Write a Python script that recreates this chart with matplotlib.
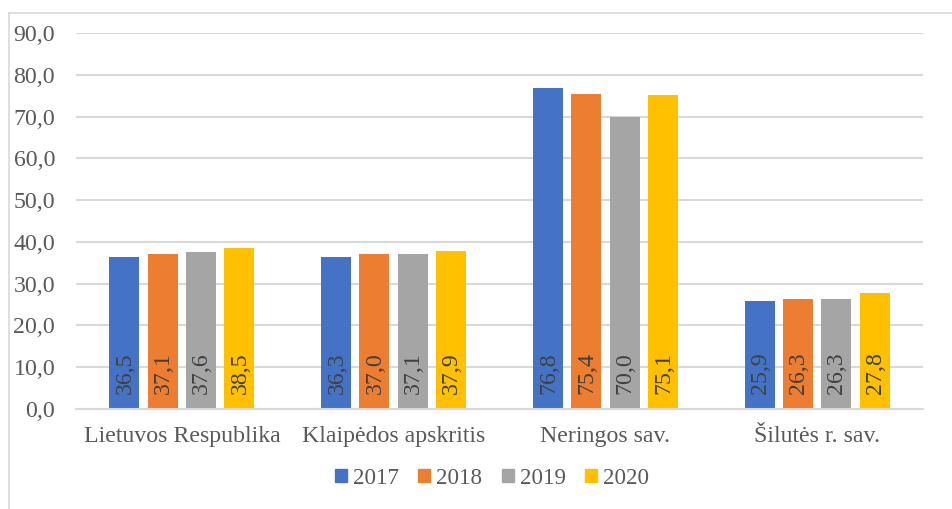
import matplotlib
matplotlib.use("Agg")
import matplotlib.pyplot as plt
from matplotlib.lines import Line2D
import numpy as np

plt.rcParams['font.family'] = ['Liberation Serif', 'DejaVu Serif']

categories = ["Lietuvos Respublika", "Klaipėdos apskritis", "Neringos sav.", "Šilutės r. sav."]
years = ["2017", "2018", "2019", "2020"]
values = {
    "2017": [36.5, 36.3, 76.8, 25.9],
    "2018": [37.1, 37.0, 75.4, 26.3],
    "2019": [37.6, 37.1, 70.0, 26.3],
    "2020": [38.5, 37.9, 75.1, 27.8],
}
colors = ["#4472C4", "#ED7D31", "#A5A5A5", "#FFC000"]
yticks = [0, 10, 20, 30, 40, 50, 60, 70, 80, 90]

W, H = 952, 509
fig = plt.figure(figsize=(W / 100, H / 100), dpi=100)
ax = fig.add_axes([76 / W, 1 - 409 / H, (923 - 76) / W, (409 - 33) / H])

FS = 17.2
x = np.arange(len(categories))
pitch = 0.181
bw = 0.142
text_col = "#404040"
for i, (yr, c) in enumerate(zip(years, colors)):
    xs = x + (i - 1.5) * pitch
    ax.bar(xs, values[yr], width=bw, color=c, zorder=3)
    for xx, v in zip(xs, values[yr]):
        ax.annotate(f"{v:.1f}".replace(".", ","), xy=(xx, 0), xytext=(0.5, 11),
                    textcoords="offset points", rotation=90, ha="center", va="bottom",
                    fontsize=FS, color=text_col, zorder=4)

ax.set_xlim(-0.5, len(categories) - 0.5)
ax.set_ylim(0, 90)
ax.set_yticks(yticks)
ax.set_yticklabels([f"{t:.1f}".replace(".", ",") for t in yticks], fontsize=FS, color="#595959")
ax.set_xticks(x)
ax.set_xticklabels(categories, fontsize=FS, color="#595959")
ax.tick_params(axis="both", length=0)
ax.tick_params(axis="y", pad=15)
ax.tick_params(axis="x", pad=12)
ax.yaxis.grid(True, color="#d9d9d9", linewidth=1.5, zorder=0)
for s in ["top", "right", "left"]:
    ax.spines[s].set_visible(False)
ax.spines["bottom"].set_color("#d9d9d9")
ax.spines["bottom"].set_linewidth(1.5)
ax.spines["bottom"].set_zorder(5)

handles = [plt.Rectangle((0, 0), 1, 1, color=c) for c in colors]
fig.legend(handles, years, loc="center", bbox_to_anchor=(492 / W, 1 - 478 / H), ncol=4,
           frameon=False, fontsize=16.6, labelcolor="#595959", handlelength=0.52,
           handleheight=0.52, handletextpad=0.26, columnspacing=0.83, borderpad=0)

# outer frame (top and left visible)
fig.add_artist(Line2D([9 / W, 1], [1 - 12.5 / H, 1 - 12.5 / H], color="#d9d9d9", linewidth=1.2, transform=fig.transFigure))
fig.add_artist(Line2D([9 / W, 9 / W], [0, 1 - 12.5 / H], color="#d9d9d9", linewidth=1.2, transform=fig.transFigure))

fig.savefig("out.png", dpi=100)
